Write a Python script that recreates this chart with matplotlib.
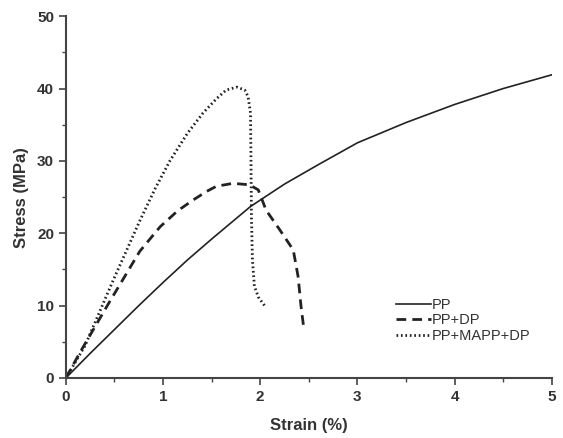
import matplotlib.pyplot as plt

plt.rcParams['font.family'] = ['Liberation Sans', 'DejaVu Sans']

# PP
pp_strain = [0, 0.25, 0.5, 0.75, 1.0, 1.25, 1.5, 1.9, 2.25, 2.6, 3.0, 3.5, 4.0, 4.5, 5.0]
pp_stress = [0, 3.4, 6.7, 10.0, 13.2, 16.3, 19.2, 23.7, 26.8, 29.5, 32.5, 35.3, 37.8, 40.0, 41.9]

# PP+DP
dp_strain = [0, 0.144, 0.435, 0.76, 0.97, 1.15, 1.31, 1.45, 1.55, 1.72, 1.89, 1.98, 2.06, 2.2, 2.34, 2.39, 2.42, 2.45]
dp_stress = [0, 3.5, 10.2, 17.5, 20.9, 23.1, 24.6, 25.8, 26.5, 26.9, 26.7, 26.0, 23.2, 20.5, 17.7, 14.0, 9.9, 6.7]

# PP+MAPP+DP
mapp_strain = [0, 0.195, 0.49, 0.76, 0.92, 1.07, 1.25, 1.41, 1.55, 1.65, 1.76, 1.84, 1.875, 1.9, 1.905,
               1.91, 1.92, 1.94, 1.98, 2.05]
mapp_stress = [0, 4.4, 13.6, 21.7, 26.2, 30.0, 33.8, 36.6, 38.6, 39.8, 40.2, 39.8, 38.9, 36.6, 30.0,
               22.0, 16.3, 12.7, 11.2, 9.9]

col = '#222222'

fig = plt.figure(figsize=(5.63, 4.38), dpi=100)
ax = fig.add_axes([0.117, 0.137, 0.863, 0.826])

ax.plot(pp_strain, pp_stress, '-', color=col, lw=1.2, label='PP')
ax.plot(dp_strain, dp_stress, '--', color=col, lw=2.0, dashes=(3.5, 2.2), label='PP+DP')
ax.plot(mapp_strain, mapp_stress, ':', color=col, lw=2.0, dashes=(0.6, 1.0), label='PP+MAPP+DP')

ax.set_xlim(0, 5)
ax.set_ylim(0, 50)
ax.set_xticks([0, 1, 2, 3, 4, 5])
ax.set_xticks([0.5, 1.5, 2.5, 3.5, 4.5], minor=True)
ax.set_yticks([0, 10, 20, 30, 40, 50])
ax.set_yticks([5, 15, 25, 35, 45], minor=True)

for s in ['top', 'right']:
    ax.spines[s].set_visible(False)
for s in ['left', 'bottom']:
    ax.spines[s].set_linewidth(1.5)
    ax.spines[s].set_color('#444444')

ax.tick_params(which='major', direction='out', length=5, width=1.2, color='#444444')
ax.tick_params(which='minor', direction='out', length=3, width=1.0, color='#444444')
for lab in ax.get_xticklabels() + ax.get_yticklabels():
    lab.set_fontweight('bold')
    lab.set_fontsize(11)
    lab.set_color('#333333')

ax.set_xlabel('Strain (%)', fontsize=12, fontweight='bold', color='#333333', labelpad=10)
ax.set_ylabel('Stress (MPa)', fontsize=12, fontweight='bold', color='#333333', labelpad=6)

leg = ax.legend(loc='upper left', bbox_to_anchor=(0.664, 0.242), frameon=False,
                fontsize=10.5, handlelength=2.4, handletextpad=0.1, labelspacing=0.1,
                borderpad=0)
for t in leg.get_texts():
    t.set_color('#333333')

fig.savefig('out.png', dpi=100)
